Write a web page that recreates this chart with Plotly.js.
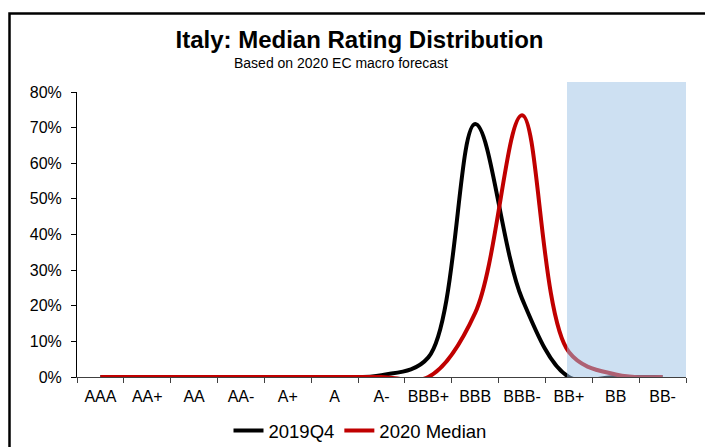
<!DOCTYPE html>
<html>
<head>
<meta charset="utf-8">
<script src="https://cdn.plot.ly/plotly-3.0.1.min.js"></script>
<style>
  html, body { margin: 0; padding: 0; background: #ffffff; }
  #chart { width: 705px; height: 447px; }
</style>
</head>
<body>
<div id="chart"></div>
<script>
// Rating scale on the x axis
const ratings = ['AAA', 'AA+', 'AA', 'AA-', 'A+', 'A', 'A-', 'BBB+', 'BBB', 'BBB-', 'BB+', 'BB', 'BB-'];

// Probability (%) of each median rating
const dist2019Q4 = [0, 0, 0, 0, 0, 0, 0.5, 5.5, 71, 22, 0, 0, 0];
const dist2020Median = [0, 0, 0, 0, 0, 0, 0, 0, 18, 73.5, 7, 0.7, 0];

// Percent ticks on the y axis
const yTicks = [0, 10, 20, 30, 40, 50, 60, 70, 80];
const yTickLabels = yTicks.map(v => v + '%');

// Sub-investment-grade zone starts at this rating
const subInvestmentFrom = 'BB+';

const FONT = 'Liberation Sans, Arial, Helvetica, sans-serif';
const W = 705, H = 447;

const traces = [
  {
    type: 'scatter', mode: 'lines', name: '2019Q4',
    x: ratings, y: dist2019Q4,
    line: { color: '#000000', width: 4, shape: 'spline', smoothing: 1 },
    hoverinfo: 'skip'
  },
  {
    type: 'scatter', mode: 'lines', name: '2020 Median',
    x: ratings, y: dist2020Median,
    line: { color: '#C00000', width: 4, shape: 'spline', smoothing: 1 },
    hoverinfo: 'skip'
  }
];

const layout = {
  width: W, height: H,
  margin: { l: 77, r: 19, t: 92, b: 70, autoexpand: false },
  paper_bgcolor: '#ffffff', plot_bgcolor: '#ffffff',
  font: { family: FONT, color: '#000000', size: 16 },
  showlegend: true,
  title: {
    text: '<b>Italy: Median Rating Distribution</b>',
    font: { family: FONT, size: 24, color: '#000000' },
    xref: 'paper', x: (359.5 - 77) / 609, xanchor: 'center',
    yref: 'container', y: 1 - 40 / H, yanchor: 'middle'
  },
  annotations: [{
    text: 'Based on 2020 EC macro forecast',
    xref: 'paper', yref: 'paper',
    x: (341 - 77) / 609, y: (377 - 63) / 285,
    xanchor: 'center', yanchor: 'middle',
    showarrow: false,
    font: { family: FONT, size: 14, color: '#000000' }
  }],
  xaxis: {
    type: 'category',
    categoryorder: 'array', categoryarray: ratings,
    range: [-0.5, ratings.length - 0.5],
    showgrid: false, zeroline: false,
    showline: true, linecolor: '#404040', linewidth: 1,
    ticks: 'outside', tickson: 'boundaries', ticklen: 5, tickcolor: '#404040',
    tickangle: 0,
    ticklabelstandoff: 5,
    tickfont: { family: FONT, size: 16, color: '#000000' },
    fixedrange: true
  },
  yaxis: {
    range: [0, 80],
    tickmode: 'array', tickvals: yTicks, ticktext: yTickLabels,
    showgrid: false, zeroline: false,
    showline: true, linecolor: '#000000', linewidth: 1,
    ticks: 'outside', ticklen: 5, tickcolor: '#000000',
    ticklabelstandoff: 6,
    tickfont: { family: FONT, size: 16, color: '#000000' },
    fixedrange: true
  },
  legend: {
    orientation: 'h',
    xref: 'container', x: 360 / W, xanchor: 'center',
    yref: 'container', y: 1 - 431 / H, yanchor: 'middle',
    font: { family: FONT, size: 18.5, color: '#000000' },
    bgcolor: 'rgba(0,0,0,0)'
  },
  shapes: [
    // translucent band over the sub-investment-grade ratings
    {
      type: 'rect', layer: 'above',
      xref: 'x', yref: 'paper',
      x0: ratings.indexOf(subInvestmentFrom) - 0.04, x1: ratings.length - 0.5,
      y0: 0, y1: (377 - 82) / 285,
      fillcolor: 'rgb(156,194,229)', opacity: 0.5,
      line: { width: 0 }
    },
    // chart frame
    {
      type: 'rect', layer: 'below',
      xref: 'paper', yref: 'paper',
      x0: (9.5 - 77) / 609, x1: 1.2,
      y0: -0.5, y1: (377 - 13.5) / 285,
      line: { color: '#000000', width: 2.5 },
      fillcolor: 'rgba(0,0,0,0)'
    }
  ]
};

Plotly.newPlot('chart', traces, layout, { displayModeBar: false, staticPlot: true });
</script>
</body>
</html>
